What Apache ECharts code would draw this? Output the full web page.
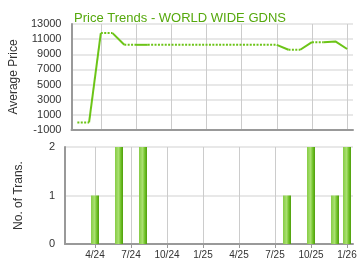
<!DOCTYPE html>
<html>
<head>
<meta charset="utf-8">
<script src="https://cdn.jsdelivr.net/npm/echarts@6/dist/echarts.min.js"></script>
<style>html,body{margin:0;padding:0;background:#fff}#c{width:360px;height:270px}</style>
</head>
<body>
<div id="c"></div>
<script>
// Month index: 0 = Jan 2024
var titleText = 'Price Trends - WORLD WIDE GDNS';
var months = [1,2,3,4,5,6,7,8,9,10,11,12,13,14,15,16,17,18,19,20,21,22,23,24];
var prices = [0,0,11800,11800,10250,10250,10250,10250,10250,10250,10250,10250,10250,10250,10250,10250,10250,10250,9600,9600,10600,10600,10700,9700];
var trans  = [0,0,1,0,2,0,2,0,0,0,0,0,0,0,0,0,0,0,1,0,2,0,1,2];
var tickMonths = [3,6,9,12,15,18,21,24];
var tickLabels = ['4/24','7/24','10/24','1/25','4/25','7/25','10/25','1/26'];

var font = 'Liberation Sans, Arial, sans-serif';
var lineColor = '#6cc417';

// price line: segment ending at a month with transactions is solid, else dotted
var series = [];
var run = null;
for (var i = 1; i < months.length; i++) {
  var solid = trans[i] > 0;
  if (!run || run.solid !== solid) {
    run = {solid: solid, pts: [[months[i-1], prices[i-1]]]};
    series.push(run);
  }
  run.pts.push([months[i], prices[i]]);
}
var echSeries = series.map(function (r) {
  return {
    type: 'line', xAxisIndex: 0, yAxisIndex: 0,
    data: r.pts, showSymbol: false, symbol: 'none', silent: true, animation: false,
    lineStyle: {color: lineColor, width: 2, type: r.solid ? 'solid' : [2, 1.4], cap: 'butt'}
  };
});
var barData = [];
for (var k = 0; k < months.length; k++) if (trans[k] > 0) barData.push([months[k], trans[k]]);
echSeries.push({
  type: 'bar', xAxisIndex: 1, yAxisIndex: 1, data: barData, barWidth: 8, animation: false,
  itemStyle: {
    color: new echarts.graphic.LinearGradient(0, 0, 1, 0, [
      {offset: 0, color: '#86cc45'},
      {offset: 0.45, color: '#a9e070'},
      {offset: 0.75, color: '#6cbf24'},
      {offset: 1, color: '#4f9e0c'}
    ])
  }
});

function xAxis(gridIndex, showLabels) {
  return {
    type: 'value', gridIndex: gridIndex, min: 0.5, max: 24.5,
    axisLine: {show: true, onZero: false, lineStyle: {color: '#999', width: 2}},
    axisTick: {show: showLabels, length: 4, lineStyle: {color: '#999'}, customValues: tickMonths},
    axisLabel: {show: showLabels, customValues: tickMonths, color: '#333', fontSize: 10, fontFamily: font, margin: 6,
      formatter: function (v) { var idx = tickMonths.indexOf(Math.round(v)); return idx >= 0 ? tickLabels[idx] : ''; }},
    splitLine: {show: true, lineStyle: {color: '#cccccc', width: 1}}
  };
}

function yAxis(gridIndex, name, min, max, interval) {
  return {type: 'value', gridIndex: gridIndex, min: min, max: max, interval: interval,
    name: name, nameLocation: 'middle', nameGap: 40,
    nameTextStyle: {color: '#333', fontSize: 12, fontFamily: font},
    axisLine: {show: true, onZero: false, lineStyle: {color: '#999', width: 2}}, axisTick: {show: false},
    axisLabel: {color: '#333', fontSize: 11, fontFamily: font, margin: 10, formatter: function (v) { return String(v); }},
    splitLine: {lineStyle: {color: '#e0e0e0', width: 1.5}}};
}

var chart = echarts.init(document.getElementById('c'), null, {renderer: 'canvas'});
chart.setOption({
  animation: false,
  title: {text: titleText, left: 'center', top: 7,
    textStyle: {color: '#55a80c', fontSize: 13, fontWeight: 'normal', fontFamily: font}},
  grid: [
    {left: 65, right: 7, top: 24, height: 106},
    {left: 65, right: 7, top: 147, height: 97}
  ],
  xAxis: [xAxis(0, false), xAxis(1, true)],
  yAxis: [
    yAxis(0, 'Average Price', -1000, 13000, 2000),
    yAxis(1, 'No. of Trans.', 0, 2, 1)
  ],
  series: echSeries
});
</script>
</body>
</html>
